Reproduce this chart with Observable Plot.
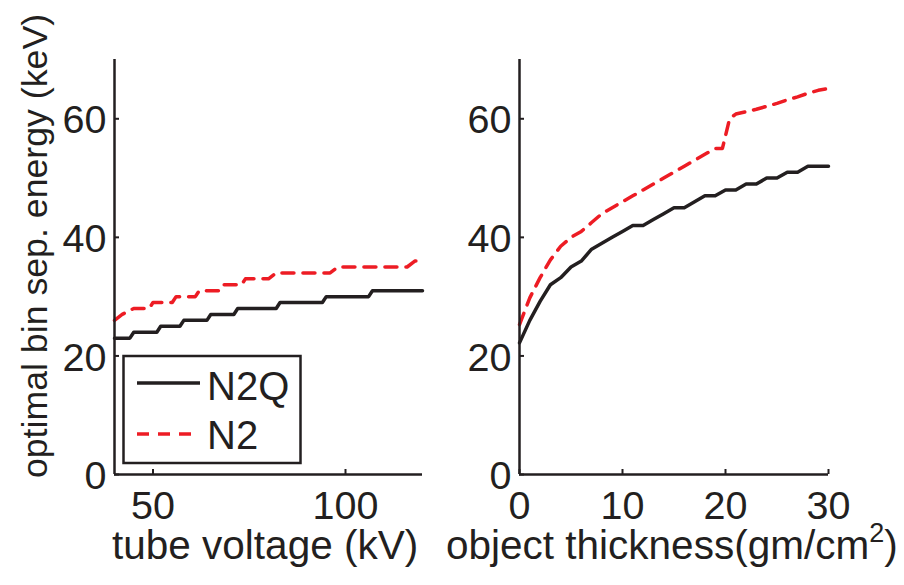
<!DOCTYPE html>
<html>
<head>
<meta charset="utf-8">
<script src="https://cdn.jsdelivr.net/npm/d3@7"></script>
<script src="https://cdn.jsdelivr.net/npm/@observablehq/plot@0.6"></script>
<style>
  html, body { margin: 0; padding: 0; background: #fff; }
  #wrap { position: relative; width: 904px; height: 585px; overflow: hidden; font-family: "Liberation Sans", Arial, sans-serif; color: #231f20; }
  #wrap svg { font-family: "Liberation Sans", Arial, sans-serif; }
  .lbl { position: absolute; white-space: nowrap; font-size: 40.5px; line-height: 0.78; color: #231f20; }
</style>
</head>
<body>
<div id="wrap"></div>
<script>
// ---- data ----
const seriesNames = ["N2Q", "N2"];
// left panel: tube voltage (kV)
const kvN2Q = [40, 44, 45, 51, 52, 57, 58, 64, 65, 71, 72, 82, 83, 94, 95, 106, 107, 120];
const eN2Q_kv = [23, 23, 24, 24, 25, 25, 26, 26, 27, 27, 28, 28, 29, 29, 30, 30, 31, 31];
const kvN2 = [40, 42, 45, 49, 50, 55, 56, 61, 62, 67, 68, 73, 74, 80, 82, 96, 98, 116, 118, 120];
const eN2_kv = [26, 27, 28, 28, 29, 29, 30, 30, 31, 31, 32, 32, 33, 33, 34, 34, 35, 35, 36, 36];
// right panel: object thickness (gm/cm^2)
const thN2Q = [0, 1, 2, 3, 4, 5, 6, 7, 8, 9, 10, 11, 12, 13, 14, 15, 16, 17, 18, 19, 20, 21, 22, 23, 24, 25, 26, 27, 28, 29, 30];
const eN2Q_th = [22.2, 26, 29.2, 32, 33.2, 35, 36, 38, 39, 40, 41, 42, 42, 43, 44, 45, 45, 46, 47, 47, 48, 48, 49, 49, 50, 50, 51, 51, 52, 52, 52];
const thN2 = [0, 1, 2, 3, 4, 5, 6, 7, 8, 9, 10, 11, 12, 13, 14, 15, 16, 17, 18, 19, 19.7, 20.4, 21, 22, 23, 24, 25, 26, 27, 28, 29, 30];
const eN2_th = [25.3, 29.8, 33.2, 36.2, 38.5, 40, 41, 42.5, 44, 45, 46, 47, 48, 49, 50, 51, 52, 53, 54, 55, 55, 60, 60.8, 61.2, 61.6, 62.1, 62.6, 63.2, 63.7, 64.3, 64.8, 65.1];
const yTicks = [0, 20, 40, 60];
const kvTicks = [50, 100];
const thTicks = [0, 10, 20, 30];

const RED = "#ed1c24";
const INK = "#231f20";

const wrap = document.getElementById("wrap");

function toRows(xs, ys, s) { return xs.map((x, i) => ({x, y: ys[i], s})); }

function panel({xDomain, xTicks, a, b, left, width, mLeft, mRight}) {
  const p = Plot.plot({
    width, height: 585,
    marginLeft: mLeft, marginRight: mRight, marginTop: 59, marginBottom: 111,
    style: {fontSize: "39.5px", fontFamily: "Liberation Sans, Arial, sans-serif", color: INK, background: "transparent", overflow: "visible"},
    x: {domain: xDomain},
    y: {domain: [0, 70]},
    marks: [
      Plot.line(b, {x: "x", y: "y", stroke: RED, strokeWidth: 3.5, strokeDasharray: "12,9", strokeLinejoin: "round"}),
      Plot.line(a, {x: "x", y: "y", stroke: INK, strokeWidth: 3.5, strokeLinejoin: "round"}),
      // inward tick marks
      Plot.axisY(yTicks, {tickSize: -5, tickFormat: () => "", strokeWidth: 2, label: null, stroke: INK}),
      Plot.axisX(xTicks, {tickSize: -5, tickFormat: () => "", strokeWidth: 2, label: null, stroke: INK}),
      // tick labels
      Plot.axisY(yTicks, {tickSize: 0, tickPadding: 8, label: null, fill: INK, dy: 2}),
      Plot.axisX(xTicks, {tickSize: 0, tickPadding: 16, label: null, fill: INK}),
      Plot.ruleX([xDomain[0]], {y1: 0, y2: 70, stroke: INK, strokeWidth: 2.5}),
      Plot.ruleY([0], {x1: xDomain[0], x2: xDomain[1], stroke: INK, strokeWidth: 2.5})
    ]
  });
  p.style.position = "absolute";
  p.style.left = left + "px";
  p.style.top = "0px";
  wrap.appendChild(p);
}

panel({xDomain: [40, 120], xTicks: kvTicks,
  a: toRows(kvN2Q, eN2Q_kv, seriesNames[0]), b: toRows(kvN2, eN2_kv, seriesNames[1]),
  left: 0, width: 440, mLeft: 114, mRight: 18});
panel({xDomain: [0, 30], xTicks: thTicks,
  a: toRows(thN2Q, eN2Q_th, seriesNames[0]), b: toRows(thN2, eN2_th, seriesNames[1]),
  left: 440, width: 464, mLeft: 79, mRight: 76});

// axis labels
function label(html, css) {
  const d = document.createElement("div");
  d.className = "lbl";
  d.innerHTML = html;
  Object.assign(d.style, css);
  wrap.appendChild(d);
  return d;
}
label("tube voltage (kV)", {left: "112px", top: "530px"});
label("object thickness(gm/cm<sup style='font-size:27px;vertical-align:17px;line-height:0'>2</sup>)", {left: "446px", top: "530px"});
const yl = label("optimal bin sep. energy (keV)", {left: "36px", top: "246px", fontSize: "35.7px", lineHeight: "1"});
yl.style.transform = "translate(-50%, -50%) rotate(-90deg)";

// legend
const ns = "http://www.w3.org/2000/svg";
const lg = document.createElementNS(ns, "svg");
lg.setAttribute("width", 904); lg.setAttribute("height", 585);
lg.style.position = "absolute"; lg.style.left = "0"; lg.style.top = "0";
lg.innerHTML = `
  <rect x="123.5" y="356" width="177" height="107" fill="#fff" stroke="${INK}" stroke-width="2.5"/>
  <line x1="137" x2="200" y1="383" y2="383" stroke="${INK}" stroke-width="3.5"/>
  <line x1="137" x2="200" y1="434" y2="434" stroke="${RED}" stroke-width="3.5" stroke-dasharray="12,9"/>
  <text x="207" y="400" font-size="40" fill="${INK}" font-family="Liberation Sans, Arial, sans-serif">${seriesNames[0]}</text>
  <text x="207" y="449" font-size="40" fill="${INK}" font-family="Liberation Sans, Arial, sans-serif">${seriesNames[1]}</text>`;
wrap.appendChild(lg);
</script>
</body>
</html>
